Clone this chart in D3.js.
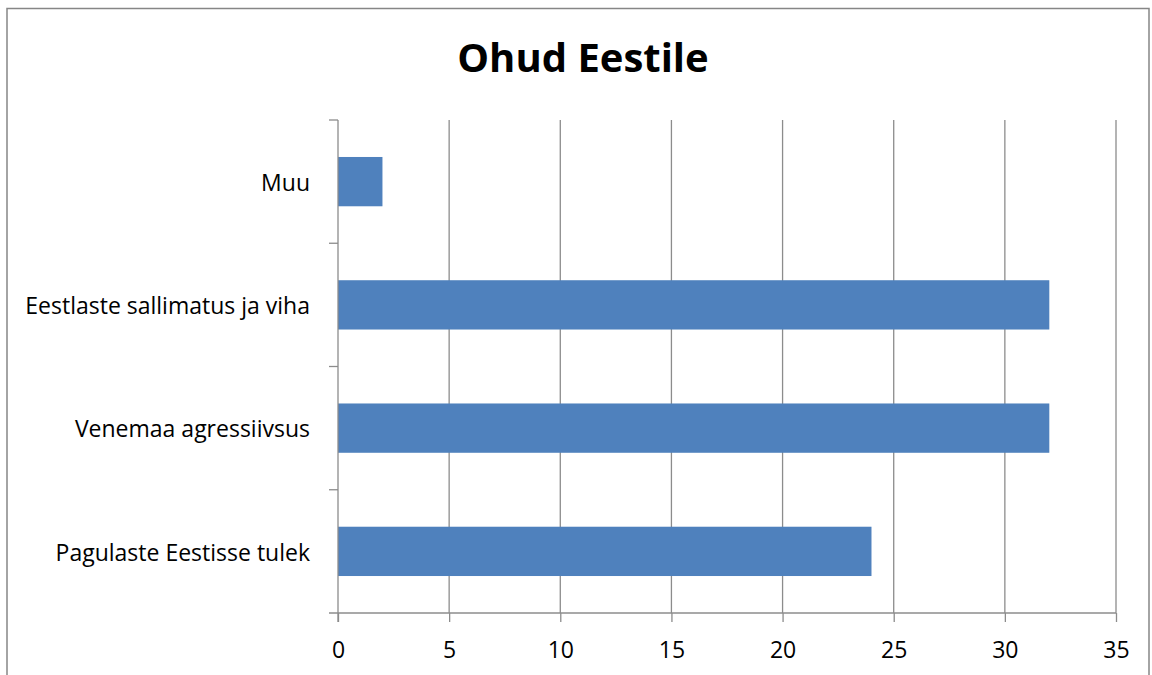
<!DOCTYPE html>
<html>
<head>
<meta charset="utf-8">
<script src="https://cdn.jsdelivr.net/npm/d3@7"></script>
<style>
  body { margin: 0; background: #fff; }
  svg text { font-family: "Open Sans", Lato, sans-serif; fill: #000; }
</style>
</head>
<body>
<svg id="chart" width="1152" height="675"></svg>
<script>
// categories top to bottom, as in the picture
var categories = ["Muu", "Eestlaste sallimatus ja viha", "Venemaa agressiivsus", "Pagulaste Eestisse tulek"],
    values     = [2, 32, 32, 24],
    xTicks     = [0, 5, 10, 15, 20, 25, 30, 35];

var svg = d3.select('#chart'),
    plotLeft = 338, plotRight = 1116, plotTop = 120, plotBottom = 613;

// outer frame
svg.append('rect')
    .attr('x', 7).attr('y', 8.5)
    .attr('width', 1142).attr('height', 700)
    .attr('fill', 'none')
    .attr('stroke', '#868686')
    .attr('stroke-width', 1.5);

var x = d3.scaleLinear().domain([0, 35]).range([plotLeft, plotRight]);
var y = d3.scaleBand().domain(categories).range([plotTop, plotBottom]).paddingInner(0.6).paddingOuter(0.3);
var yEdges = d3.scaleBand().domain(categories).range([plotTop, plotBottom]);

// vertical gridlines
svg.append('g').selectAll('line')
    .data(xTicks.slice(1))
    .enter().append('line')
    .attr('x1', d => x(d)).attr('x2', d => x(d))
    .attr('y1', plotTop).attr('y2', plotBottom)
    .attr('stroke', '#8c8c8c').attr('stroke-width', 1.3);

// bars
svg.append('g').selectAll('rect')
    .data(categories)
    .enter().append('rect')
    .attr('x', x(0))
    .attr('y', d => y(d))
    .attr('width', (d, i) => x(values[i]) - x(0))
    .attr('height', y.bandwidth())
    .attr('fill', '#4f81bd');

// x axis
var xAxis = svg.append('g')
    .attr('transform', 'translate(0,' + plotBottom + ')')
    .call(d3.axisBottom(x).tickValues(xTicks).tickSize(9).tickPadding(20).tickSizeOuter(0));
xAxis.select('.domain').attr('stroke', '#8c8c8c').attr('stroke-width', 1.3)
    .attr('d', 'M' + (plotLeft - 9) + ',0H' + plotRight);
xAxis.selectAll('.tick line').attr('stroke', '#8c8c8c').attr('stroke-width', 1.3);
xAxis.selectAll('.tick text').style('font-size', '23px').style('font-family', '"Open Sans", sans-serif').attr('fill', '#000');

// y axis: ticks at band edges, labels at band centers
var yAxis = svg.append('g').attr('transform', 'translate(' + plotLeft + ',0)');
yAxis.append('line')
    .attr('y1', plotTop).attr('y2', plotBottom + 9)
    .attr('stroke', '#8c8c8c').attr('stroke-width', 1.3);
yAxis.selectAll('.edge')
    .data(categories)
    .enter().append('line')
    .attr('class', 'edge')
    .attr('x1', -9).attr('x2', 0)
    .attr('y1', d => yEdges(d)).attr('y2', d => yEdges(d))
    .attr('stroke', '#8c8c8c').attr('stroke-width', 1.3);
yAxis.selectAll('text')
    .data(categories)
    .enter().append('text')
    .attr('x', -28)
    .attr('y', d => yEdges(d) + yEdges.bandwidth() / 2)
    .attr('dy', '0.4em')
    .attr('text-anchor', 'end')
    .style('font-size', '23px')
    .text(d => d);

// title
svg.append('text')
    .attr('x', 583).attr('y', 72)
    .attr('text-anchor', 'middle')
    .style('font-size', '40px')
    .style('font-weight', 'bold')
    .text('Ohud Eestile');
</script>
</body>
</html>
